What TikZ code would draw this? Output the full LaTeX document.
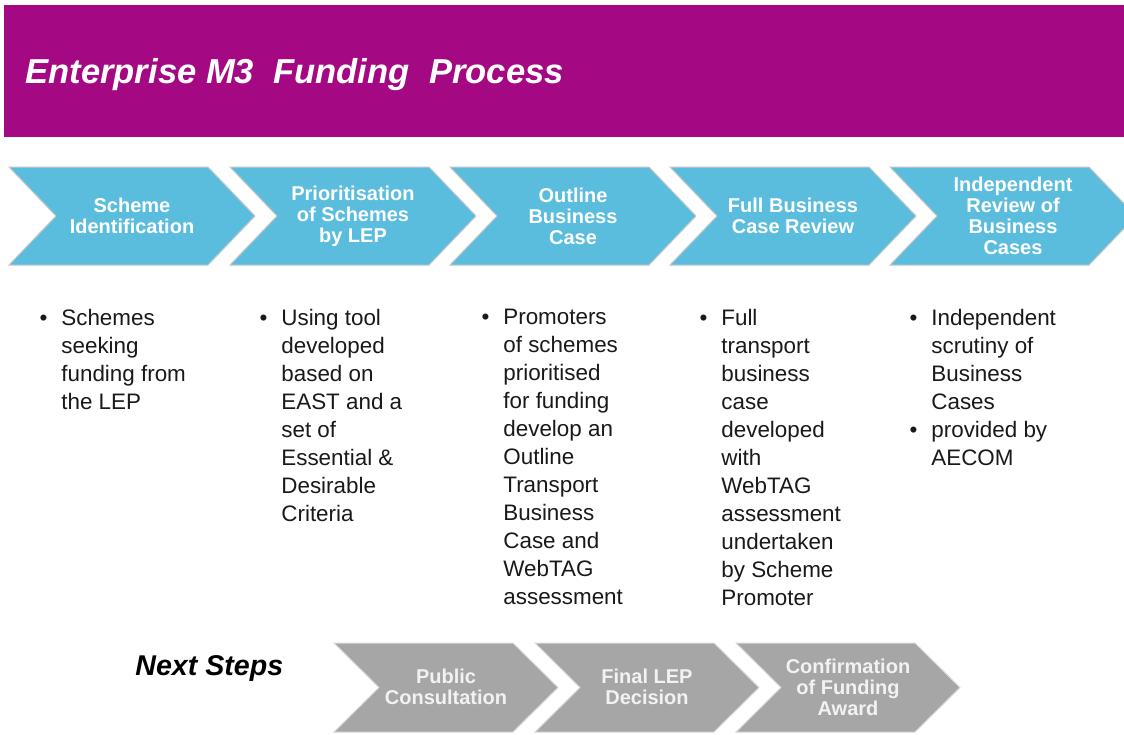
\documentclass[tikz,border=0pt]{standalone}
\usepackage{fontspec}
\setmainfont{Liberation Sans}
\usepackage{xcolor}
\definecolor{bandpurple}{RGB}{164,8,130}
\definecolor{stepblue}{RGB}{91,189,222}
\definecolor{stepgrey}{RGB}{166,166,166}
\newcommand{\itm}{\llap{\textbullet\hspace{7pt}}}

\begin{document}
\begin{tikzpicture}[
  x=0.5pt,y=-0.5pt,
  bandtitle/.style={font=\fontsize{17.3}{20}\selectfont\bfseries\itshape,
                    text=white, inner sep=0pt, anchor=base west},
  nexttitle/.style={font=\fontsize{14.3}{16}\selectfont\bfseries\itshape,
                    text=black, inner sep=0pt, anchor=base west},
  bluechev/.style={fill=stepblue, draw=black!22, line width=0.5pt},
  greychev/.style={fill=stepgrey, draw=black!15, line width=0.5pt},
  steptext/.style={font=\fontsize{10}{10.5}\selectfont\bfseries,
                   text=white, align=center, inner sep=0pt},
  nexttext/.style={font=\fontsize{10}{10.5}\selectfont\bfseries,
                   text=black!5, align=center, inner sep=0pt},
  bullettext/.style={font=\fontsize{11.2}{14}\selectfont, text=black!90,
                     align=left, inner sep=0pt, anchor=north west}
]
\path[use as bounding box, clip] (0,0) rectangle (1124,734);

% heading band
\fill[bandpurple] (4,5) rectangle (1124,137);
\node[bandtitle] (heading) at (25,83) {Enterprise M3~ Funding~ Process};

% process steps
\foreach \x/\nm/\txt in {9/ident/{Scheme\\Identification},
                         230/prior/{Prioritisation\\of Schemes\\by LEP},
                         450/outline/{Outline\\Business\\Case},
                         670/full/{Full Business\\Case Review},
                         890/review/{Independent\\Review of\\Business\\Cases}}{
  \draw[bluechev] (\x,167) -- ++(199,0) -- ++(47,49) -- ++(-47,49)
                  -- ++(-199,0) -- ++(47,-49) -- cycle;
  \node[steptext] (\nm) at (\x+123,216) {\txt};
}

% what happens at each step
\node[bullettext] (identtxt) at (61,309)
  {\itm Schemes\\seeking\\funding from\\the LEP};
\node[bullettext] (priortxt) at (281,309)
  {\itm Using tool\\developed\\based on\\EAST and a\\set of\\Essential \&\\Desirable\\Criteria};
\node[bullettext] (outlinetxt) at (503,309)
  {\itm Promoters\\of schemes\\prioritised\\for funding\\develop an\\Outline\\Transport\\Business\\Case and\\WebTAG\\assessment};
\node[bullettext] (fulltxt) at (721,309)
  {\itm Full\\transport\\business\\case\\developed\\with\\WebTAG\\assessment\\undertaken\\by Scheme\\Promoter};
\node[bullettext] (reviewtxt) at (931,309)
  {\itm Independent\\scrutiny of\\Business\\Cases\\\itm provided by\\AECOM};

% next steps
\node[nexttitle] (next) at (135,675) {Next Steps};
\foreach \x/\nm/\txt in {334/consult/{Public\\Consultation},
                         535/decide/{Final LEP\\Decision},
                         736/award/{Confirmation\\of Funding\\Award}}{
  \draw[greychev] (\x,643) -- ++(179,0) -- ++(45,44.5) -- ++(-45,44.5)
                  -- ++(-179,0) -- ++(45,-44.5) -- cycle;
  \node[nexttext] (\nm) at (\x+112,687) {\txt};
}

\end{tikzpicture}
\end{document}
